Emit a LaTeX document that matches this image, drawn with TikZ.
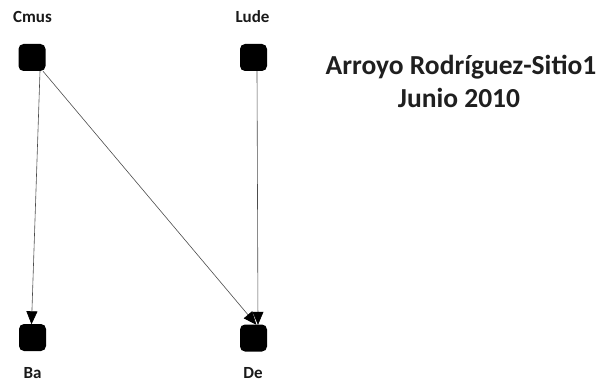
\documentclass[tikz,border=0pt]{standalone}
\usepackage{fontspec}
\setmainfont{Carlito}
\usetikzlibrary{arrows.meta}
\tikzset{
  box/.style={draw=none, fill=black, minimum size=27pt, inner sep=0pt, rounded corners=5pt},
  lab/.style={anchor=base, font=\fontsize{17}{20}\selectfont\bfseries, inner sep=0pt, text=black!90},
  ttl/.style={anchor=base, font=\fontsize{27.5}{33}\selectfont\bfseries, inner sep=0pt, text=black!88},
  edge/.style={draw=black!70, line width=0.6pt, -{Triangle[length=13pt,width=11pt,color=black]}, shorten >=-0.5pt}
}
\begin{document}
\begin{tikzpicture}[x=1pt,y=-1pt]
\useasboundingbox (0,0) rectangle (602,385);
\node[box] (cmus) at (32,57.5) {};
\node[box] (lude) at (253.5,57.5) {};
\node[box] (ba) at (32.5,337.5) {};
\node[box] (de) at (253.5,338) {};
\node[lab] (lcmus) at (32.5,23) {Cmus};
\node[lab] (llude) at (252.5,23) {Lude};
\node[lab] (lba) at (32.5,378) {Ba};
\node[lab] (lde) at (253,378) {De};
\node[ttl] (t1) at (461,75) {Arroyo Rodríguez-Sitio1};
\node[ttl] (t2) at (459,108) {Junio 2010};
\draw[edge] ([xshift=8pt]cmus.south) -- ([xshift=-1pt]ba.north);
\draw[edge] ([xshift=11pt]cmus.south) -- ([xshift=2.5pt]de.north);
\draw[edge] ([xshift=3.5pt]lude.south) -- ([xshift=4.5pt]de.north);
\end{tikzpicture}
\end{document}
